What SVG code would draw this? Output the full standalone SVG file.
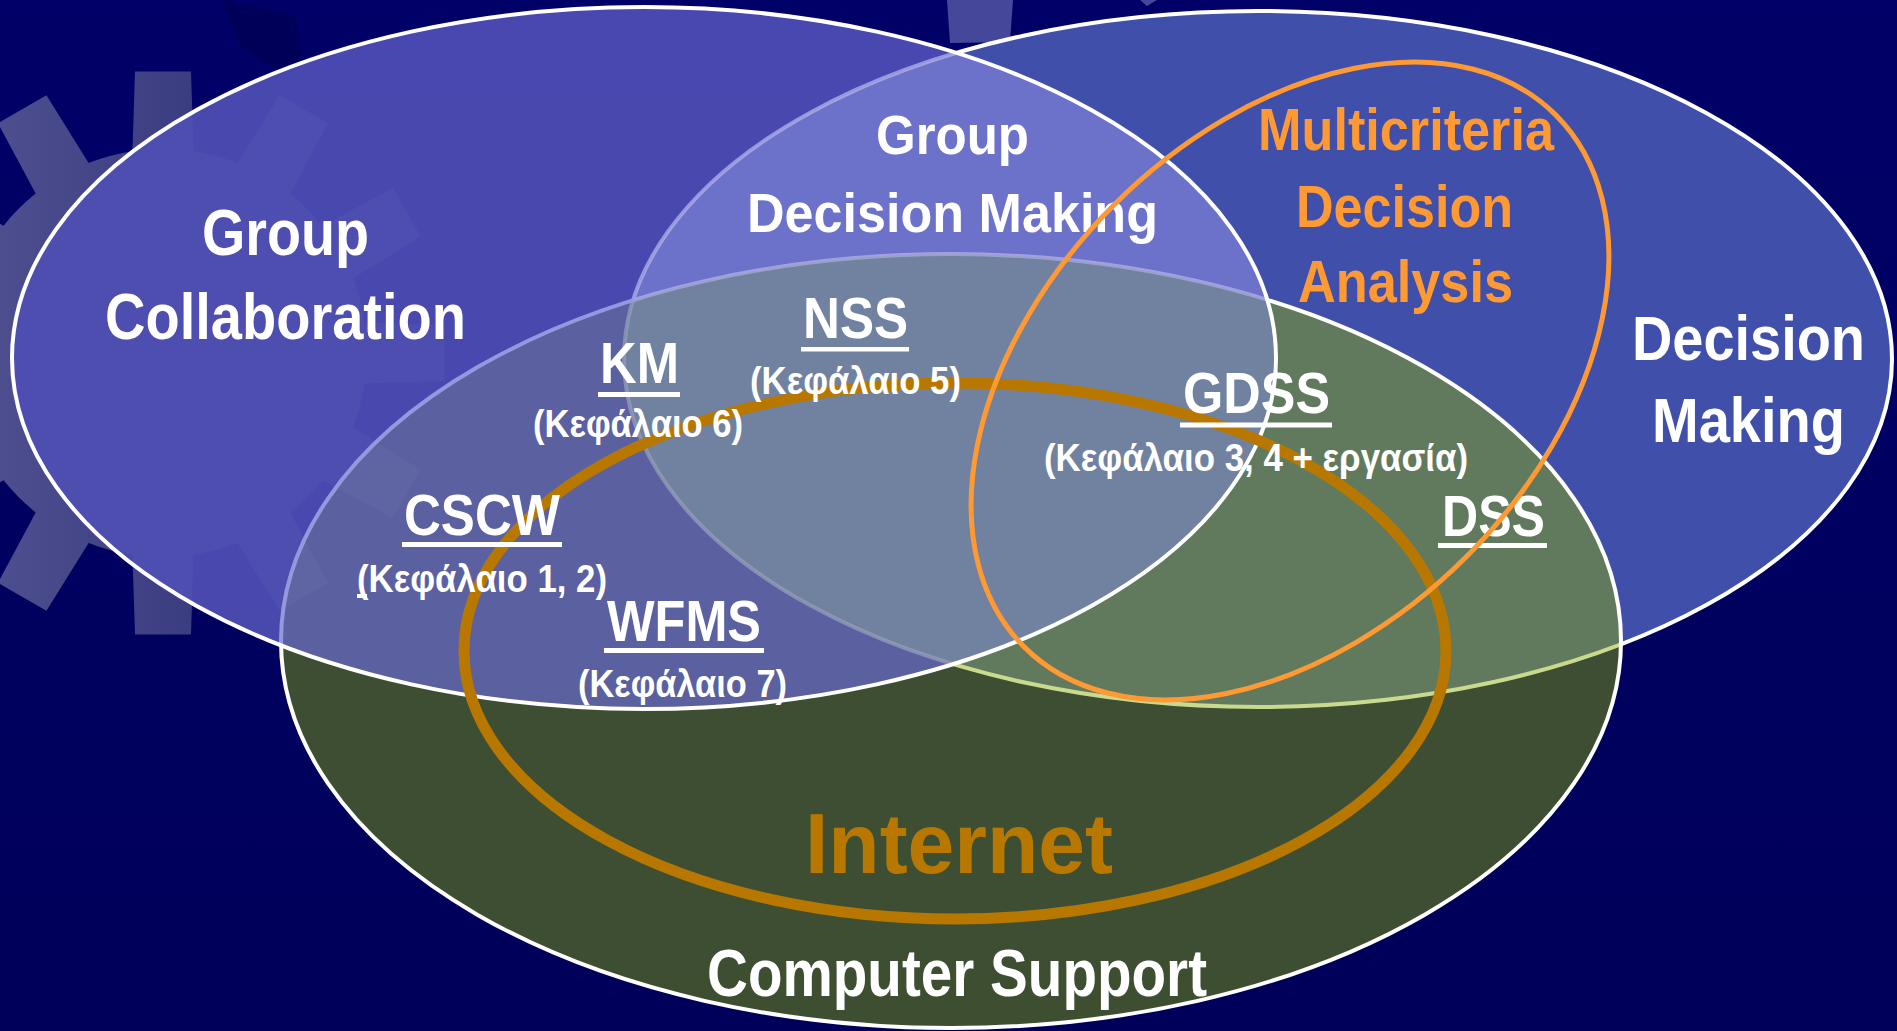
<svg xmlns="http://www.w3.org/2000/svg" xmlns:xlink="http://www.w3.org/1999/xlink" width="1897" height="1031" viewBox="0 0 1897 1031">
<style>
.t{font-family:'Liberation Sans Narrow','Liberation Sans',Arial,sans-serif;font-weight:bold;fill:#fff}
.big{font-size:64px}
.lab{font-size:58px}
.sub{font-size:38px}
.org{fill:#ff9933}
.ul{fill:#fff}
.edge{fill:none;stroke:#fff;stroke-width:4}
</style>
<defs>
<linearGradient id="bgGrad" x1="0" y1="0" x2="0" y2="1">
<stop offset="0" stop-color="#000068"/><stop offset="1" stop-color="#00005a"/>
</linearGradient>
<linearGradient id="gearGrad" gradientUnits="userSpaceOnUse" x1="0" y1="0" x2="450" y2="0">
<stop offset="0" stop-color="#4c4e8e"/><stop offset="0.45" stop-color="#3a3c80"/><stop offset="1" stop-color="#2a2c78"/>
</linearGradient>
<path id="tooth" d="M-31 -188 L-28 -281.6 L28 -281.6 L31 -188 Z"/>
<clipPath id="gearClip">
<circle cx="163" cy="353" r="204"/>
<use xlink:href="#tooth" transform="translate(163 353) rotate(0)"/>
<use xlink:href="#tooth" transform="translate(163 353) rotate(30)"/>
<use xlink:href="#tooth" transform="translate(163 353) rotate(60)"/>
<use xlink:href="#tooth" transform="translate(163 353) rotate(90)"/>
<use xlink:href="#tooth" transform="translate(163 353) rotate(120)"/>
<use xlink:href="#tooth" transform="translate(163 353) rotate(150)"/>
<use xlink:href="#tooth" transform="translate(163 353) rotate(180)"/>
<use xlink:href="#tooth" transform="translate(163 353) rotate(210)"/>
<use xlink:href="#tooth" transform="translate(163 353) rotate(240)"/>
<use xlink:href="#tooth" transform="translate(163 353) rotate(270)"/>
<use xlink:href="#tooth" transform="translate(163 353) rotate(300)"/>
<use xlink:href="#tooth" transform="translate(163 353) rotate(330)"/>
</clipPath>
<clipPath id="outE1">
<path clip-rule="evenodd" d="M0 0 H1897 V1031 H0 Z M12 358 A632 351 0 1 0 1276 358 A632 351 0 1 0 12 358 Z"/>
</clipPath>
<clipPath id="inE1">
<ellipse cx="644" cy="358" rx="632" ry="351"/>
</clipPath>
<clipPath id="inE3">
<ellipse cx="951" cy="641" rx="670" ry="387"/>
</clipPath>
<clipPath id="outE3">
<path clip-rule="evenodd" d="M0 0 H1897 V1031 H0 Z M281 641 A670 387 0 1 0 1621 641 A670 387 0 1 0 281 641 Z"/>
</clipPath>
</defs>

<g id="background">
<rect width="1897" height="1031" fill="url(#bgGrad)"/>
<g clip-path="url(#outE1)">
<polygon points="222,0 296,16 302,55 280,72 240,45" fill="#000058"/>
<g clip-path="url(#gearClip)"><rect x="-150" y="40" width="650" height="640" fill="url(#gearGrad)"/></g>
</g>
<polygon points="947,0 1013,0 1010,42 950,43" fill="#45489a"/>
<polygon points="1140,0 1157,0 1147,6" fill="#45489a"/>
</g>

<g id="set-decision-making">
<ellipse cx="1258" cy="359" rx="634" ry="348" class="edge" style="fill:#4050aa"/>
</g>

<g id="set-computer-support">
<ellipse cx="951" cy="641" rx="670" ry="387" fill="rgb(138,174,0)" fill-opacity="0.45" stroke="#fff" stroke-width="4"/>
</g>

<g id="set-group-collaboration">
<ellipse cx="644" cy="358" rx="632" ry="351" fill="rgb(104,104,208)" fill-opacity="0.69"/>
<g clip-path="url(#inE1)"><g clip-path="url(#gearClip)"><rect x="-150" y="40" width="650" height="640" fill="#9a9ad0" fill-opacity="0.08"/></g></g>
<g clip-path="url(#inE1)"><g clip-path="url(#outE3)"><ellipse cx="1258" cy="359" rx="634" ry="348" fill="#fff" fill-opacity="0.1"/></g></g>
<g clip-path="url(#inE1)"><g clip-path="url(#inE3)"><ellipse cx="1258" cy="359" rx="634" ry="348" fill="rgb(160,205,110)" fill-opacity="0.2"/></g></g>
<ellipse cx="644" cy="358" rx="632" ry="351" class="edge"/>
</g>

<g id="ring-internet">
<ellipse cx="955" cy="651" rx="491" ry="268" fill="none" stroke="#b87800" stroke-width="11"/>
</g>

<g id="labels">
<g id="label-group-collaboration">
<text class="t big" x="202" y="255" textLength="167" lengthAdjust="spacingAndGlyphs">Group</text>
<text class="t big" x="105" y="339" textLength="361" lengthAdjust="spacingAndGlyphs">Collaboration</text>
</g>
<g id="label-group-decision-making">
<text class="t" style="font-size:56px" x="876" y="154" textLength="153" lengthAdjust="spacingAndGlyphs">Group</text>
<text class="t" style="font-size:56px" x="747" y="232" textLength="411" lengthAdjust="spacingAndGlyphs">Decision Making</text>
</g>
<g id="label-decision-making">
<text class="t" style="font-size:63px" x="1632" y="360" textLength="233" lengthAdjust="spacingAndGlyphs">Decision</text>
<text class="t" style="font-size:63px" x="1652" y="442" textLength="193" lengthAdjust="spacingAndGlyphs">Making</text>
</g>
<g id="label-mcda">
<text class="t org" style="font-size:60px" x="1258" y="150" textLength="296" lengthAdjust="spacingAndGlyphs">Multicriteria</text>
<text class="t org" style="font-size:60px" x="1296" y="227" textLength="217" lengthAdjust="spacingAndGlyphs">Decision</text>
<text class="t org" style="font-size:60px" x="1298" y="302" textLength="215" lengthAdjust="spacingAndGlyphs">Analysis</text>
</g>
<g id="node-nss">
<text class="t lab" x="803" y="338" textLength="105" lengthAdjust="spacingAndGlyphs">NSS</text>
<rect class="ul" x="801" y="347" width="108" height="4.5"/>
<text class="t sub" x="750" y="394" textLength="211" lengthAdjust="spacingAndGlyphs">(Κεφάλαιο 5)</text>
</g>
<g id="node-km">
<text class="t lab" x="600" y="383" textLength="79" lengthAdjust="spacingAndGlyphs">KM</text>
<rect class="ul" x="598" y="392" width="82" height="5"/>
<text class="t sub" x="533" y="437" textLength="210" lengthAdjust="spacingAndGlyphs">(Κεφάλαιο 6)</text>
</g>
<g id="node-cscw">
<text class="t lab" x="404" y="535" textLength="156" lengthAdjust="spacingAndGlyphs">CSCW</text>
<rect class="ul" x="402" y="542" width="160" height="5"/>
<text class="t sub" x="357" y="592" textLength="250" lengthAdjust="spacingAndGlyphs">(Κεφάλαιο 1, 2)</text>
<rect class="ul" x="357" y="594" width="10" height="4"/>
</g>
<g id="node-wfms">
<text class="t lab" x="607" y="641" textLength="154" lengthAdjust="spacingAndGlyphs">WFMS</text>
<rect class="ul" x="604" y="648" width="160" height="5"/>
<text class="t sub" x="578" y="697" textLength="209" lengthAdjust="spacingAndGlyphs">(Κεφάλαιο 7)</text>
</g>
<g id="node-gdss">
<text class="t lab" x="1183" y="413" textLength="147" lengthAdjust="spacingAndGlyphs">GDSS</text>
<rect class="ul" x="1180" y="422.5" width="152" height="5"/>
<text class="t sub" x="1044" y="471" textLength="424" lengthAdjust="spacingAndGlyphs">(Κεφάλαιο 3, 4 + εργασία)</text>
</g>
<g id="node-dss">
<text class="t lab" x="1442" y="536" textLength="103" lengthAdjust="spacingAndGlyphs">DSS</text>
<rect class="ul" x="1438" y="543" width="109" height="5"/>
</g>
<g id="label-internet">
<text class="t" style="font-size:85px;fill:#b87800" x="805" y="873" textLength="308" lengthAdjust="spacingAndGlyphs">Internet</text>
</g>
<g id="label-computer-support">
<text class="t" style="font-size:66px" x="707" y="996" textLength="500" lengthAdjust="spacingAndGlyphs">Computer Support</text>
</g>
</g>

<g id="ring-multicriteria">
<ellipse cx="1290" cy="381" rx="376" ry="249" transform="rotate(-45 1290 381)" fill="none" stroke="#ff9933" stroke-width="5"/>
</g>
<g id="connectors"/>
</svg>
